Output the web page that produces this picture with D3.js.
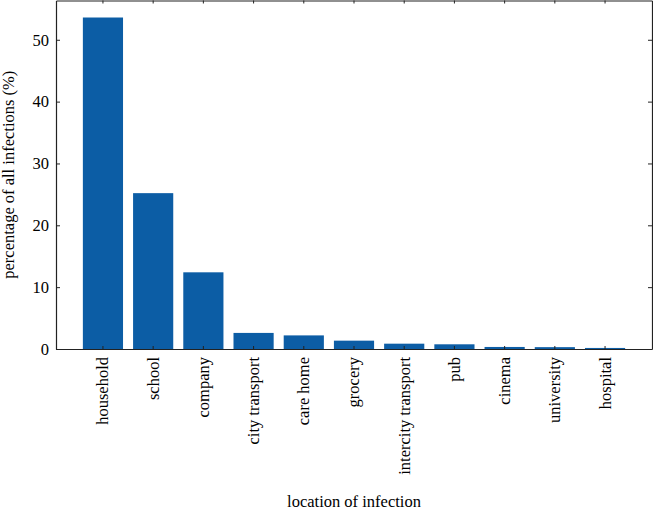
<!DOCTYPE html>
<html lang="en">
<head>
  <meta charset="UTF-8" />
  <title>Location of infection</title>
  <script src="https://d3js.org/d3.v7.min.js"></script>
  <style>
    body { margin: 0; background: #fff; }
  </style>
</head>
<body>
<svg width="653" height="512"></svg>
<script>
const locations = ["household", "school", "company", "city transport", "care home",
  "grocery", "intercity transport", "pub", "cinema", "university", "hospital"];
const shares = [53.6, 25.2, 12.4, 2.6, 2.2, 1.35, 0.86, 0.76, 0.33, 0.3, 0.17];
const yTicks = [0, 10, 20, 30, 40, 50];

const serif = "'Liberation Serif', serif";
// touch the font once so the browser has it ready before drawing
const ctx = document.createElement("canvas").getContext("2d");
ctx.font = "16px " + serif;
ctx.measureText("household");

const svg = d3.select("svg");
const plotLeft = 56, plotRight = 652, plotTop = 0.5, plotBottom = 349;

const x = d3.scaleBand()
  .domain(locations)
  .range([plotLeft, plotRight])
  .paddingInner(0.2)
  .paddingOuter(0.535);

const y = d3.scaleLinear()
  .domain([0, 56.35])
  .range([plotBottom, plotTop]);

// bars
svg.append("g")
  .selectAll("rect")
  .data(locations)
  .join("rect")
  .attr("x", d => x(d))
  .attr("width", x.bandwidth())
  .attr("y", (d, i) => y(shares[i]))
  .attr("height", (d, i) => y(0) - y(shares[i]))
  .attr("fill", "#0C5DA5");

// axes, ticks pointing inward
const fs = 16.5;
const bottomAxis = svg.append("g")
  .attr("transform", `translate(0,${plotBottom})`)
  .call(d3.axisBottom(x).tickSizeInner(-3).tickSizeOuter(0));
bottomAxis.selectAll("text")
  .attr("transform", "rotate(-90)")
  .attr("text-anchor", "end")
  .attr("x", -8)
  .attr("y", 0)
  .attr("dy", "0.33em");

svg.append("g")
  .attr("transform", `translate(0,${plotTop})`)
  .call(d3.axisTop(x).tickSizeInner(-3).tickSizeOuter(0).tickFormat(""));

svg.append("g")
  .attr("transform", `translate(${plotLeft},0)`)
  .call(d3.axisLeft(y).tickValues(yTicks).tickSizeInner(-4).tickSizeOuter(0).tickPadding(7));

svg.append("g")
  .attr("transform", `translate(${plotRight},0)`)
  .call(d3.axisRight(y).tickValues(yTicks).tickSizeInner(-4).tickSizeOuter(0).tickFormat(""));

svg.selectAll(".domain, .tick line").attr("stroke", "#222");
svg.selectAll(".domain").attr("stroke-width", 1.2);

// axis titles
svg.append("text")
  .attr("x", (plotLeft + plotRight) / 2)
  .attr("y", 507)
  .attr("text-anchor", "middle")
  .text("location of infection");

svg.append("text")
  .attr("transform", `translate(14,${(plotTop + plotBottom) / 2}) rotate(-90)`)
  .attr("text-anchor", "middle")
  .text("percentage of all infections (%)");

svg.selectAll("g").attr("font-family", null).attr("font-size", null);
svg.selectAll("text")
  .attr("font-family", serif)
  .attr("font-size", fs)
  .attr("fill", "#000");
</script>
</body>
</html>
